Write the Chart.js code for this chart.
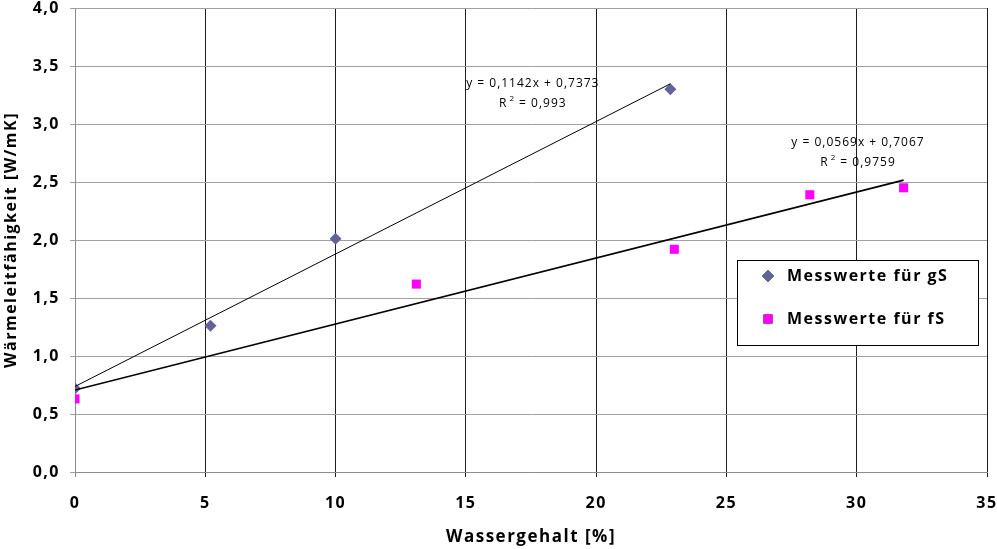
<!DOCTYPE html>
<html>
<head>
<meta charset="utf-8">
<script src="https://cdn.jsdelivr.net/npm/chart.js@4"></script>
<style>
  html, body { margin: 0; padding: 0; background: #fff; }
  #wrap { width: 997px; height: 549px; }
</style>
</head>
<body>
<div id="wrap"><canvas id="myChart" width="997" height="549"></canvas></div>
<script>
// Messwerte gS (Rauten) und fS (Quadrate)
const gsWasser = [0, 5.2, 10.0, 22.85];
const gsLambda = [0.72, 1.26, 2.01, 3.30];
const fsWasser = [0, 13.1, 23.0, 28.2, 31.8];
const fsLambda = [0.63, 1.62, 1.92, 2.39, 2.45];

// lineare Trendlinien: Steigung, Achsenabschnitt, Bereich
const gsTrend = [0.1142, 0.7373];
const fsTrend = [0.0569, 0.7067];
const gsTrendRange = [0, 22.85];
const fsTrendRange = [0, 31.8];
const gsTrendText = ['y = 0,1142x + 0,7373', '0,993'];
const fsTrendText = ['y = 0,0569x + 0,7067', '0,9759'];

const xTicks = [0, 5, 10, 15, 20, 25, 30, 35];
const yTicks = [0, 0.5, 1, 1.5, 2, 2.5, 3, 3.5, 4];

const FONT = '"Open Sans", "Liberation Sans", sans-serif';
const gsColor = '#63639c';
const fsColor = '#ff00ff';

function toPoints(xs, ys) {
    return xs.map((x, i) => ({ x: x, y: ys[i] }));
}

function trendPoints(coef, range) {
    return range.map(x => ({ x: x, y: coef[0] * x + coef[1] }));
}

function komma(v, digits) {
    return v.toFixed(digits).replace('.', ',');
}

// Gleichungen an den Trendlinien + Legende mit Rahmen
const extras = {
    id: 'extras',
    beforeDraw(chart) {
        // etwas gesperrte Schrift fuer Achsen und Titel
        chart.ctx.letterSpacing = '1.5px';
    },
    afterDatasetsDraw(chart) {
        const ctx = chart.ctx;
        const xs = chart.scales.x, ys = chart.scales.y;

        function eqLabel(text, xv, yv) {
            const px = xs.getPixelForValue(xv);
            const py = ys.getPixelForValue(yv);
            ctx.save();
            ctx.letterSpacing = '1px';
            ctx.fillStyle = '#000';
            ctx.font = '12px ' + FONT;
            ctx.textAlign = 'center';
            ctx.textBaseline = 'middle';
            ctx.fillText(text[0], px, py);
            // R² mit hochgestellter 2
            const a = 'R', b = ' = ' + text[1];
            const wa = ctx.measureText(a).width;
            const wb = ctx.measureText(b).width;
            ctx.font = '8px ' + FONT;
            const w2 = ctx.measureText('2').width + 2;
            const start = px - (wa + w2 + wb) / 2;
            ctx.textAlign = 'left';
            ctx.fillText('2', start + wa + 2, py + 15);
            ctx.font = '12px ' + FONT;
            ctx.fillText(a, start, py + 20);
            ctx.fillText(b, start + wa + w2, py + 20);
            ctx.restore();
        }
        eqLabel(gsTrendText, 17.57, 3.35);
        eqLabel(fsTrendText, 30.05, 2.84);

        // Legende
        const ca = chart.chartArea;
        const lx = ca.right - 250, ly = ca.top + 252;
        const lw = 241, lh = 85;
        ctx.save();
        ctx.letterSpacing = '1.5px';
        ctx.fillStyle = '#fff';
        ctx.fillRect(lx, ly, lw, lh);
        ctx.strokeStyle = '#000';
        ctx.lineWidth = 1;
        ctx.strokeRect(lx + 0.5, ly + 0.5, lw, lh);
        ctx.font = 'bold 16px ' + FONT;
        ctx.textBaseline = 'middle';
        ctx.fillStyle = '#000';
        const items = [
            { text: 'Messwerte für gS', style: 'rectRot', color: gsColor, r: 6 },
            { text: 'Messwerte für fS', style: 'rect', color: fsColor, r: 6.4 }
        ];
        items.forEach((it, i) => {
            const cy = ly + 16 + i * 43;
            Chart.helpers.drawPoint(ctx, { pointStyle: it.style, radius: it.r, borderWidth: 0 }, lx + 31, cy);
            ctx.fillStyle = it.color;
            ctx.fill();
            ctx.fillStyle = '#000';
            ctx.fillText(it.text, lx + 50, cy);
        });
        ctx.restore();
    }
};

const ctx = document.getElementById('myChart').getContext('2d');
new Chart(ctx, {
    type: 'scatter',
    data: {
        datasets: [
            {
                label: 'Trend gS',
                data: trendPoints(gsTrend, gsTrendRange),
                showLine: true,
                borderColor: '#000',
                borderWidth: 1,
                pointRadius: 0
            },
            {
                label: 'Trend fS',
                data: trendPoints(fsTrend, fsTrendRange),
                showLine: true,
                borderColor: '#000',
                borderWidth: 1.6,
                pointRadius: 0
            },
            {
                label: 'Messwerte für gS',
                data: toPoints(gsWasser, gsLambda),
                pointStyle: 'rectRot',
                pointRadius: 6,
                backgroundColor: gsColor,
                borderColor: gsColor,
                borderWidth: 0
            },
            {
                label: 'Messwerte für fS',
                data: toPoints(fsWasser, fsLambda),
                pointStyle: 'rect',
                pointRadius: 6.4,
                backgroundColor: fsColor,
                borderColor: fsColor,
                borderWidth: 0
            }
        ]
    },
    options: {
        responsive: false,
        animation: false,
        layout: { padding: { top: 8, right: 10, left: 0, bottom: 0 } },
        plugins: {
            legend: { display: false },
            tooltip: { enabled: false }
        },
        scales: {
            x: {
                type: 'linear',
                min: 0,
                max: 35,
                afterBuildTicks: s => { s.ticks = xTicks.map(v => ({ value: v })); },
                afterFit: s => {
                    s.height = 77;
                    s.paddingLeft = 0;
                    s.paddingRight = 0;
                },
                grid: {
                    color: c => (c.tick && c.tick.value === 0) ? '#8c8c8c' : '#1e1e1e',
                    tickLength: 5
                },
                border: { color: '#8c8c8c' },
                ticks: {
                    padding: 17,
                    color: '#000',
                    font: { family: FONT, size: 16, weight: 'bold' }
                },
                title: {
                    display: true,
                    text: 'Wassergehalt [%]',
                    color: '#000',
                    font: { family: FONT, size: 17, weight: 'bold' },
                    padding: { top: 0, bottom: 2 }
                }
            },
            y: {
                type: 'linear',
                min: 0,
                max: 4,
                afterBuildTicks: s => { s.ticks = yTicks.map(v => ({ value: v })); },
                afterFit: s => {
                    s.width = 75;
                    s.paddingTop = 0;
                    s.paddingBottom = 0;
                },
                grid: { color: '#a0a0a0', tickLength: 5 },
                border: { color: '#8c8c8c' },
                ticks: {
                    padding: 10,
                    color: '#000',
                    font: { family: FONT, size: 16, weight: 'bold' },
                    callback: v => komma(v, 1)
                },
                title: {
                    display: true,
                    text: 'Wärmeleitfähigkeit [W/mK]',
                    color: '#000',
                    font: { family: FONT, size: 16, weight: 'bold' },
                    padding: { top: 2, bottom: 0 }
                }
            }
        }
    },
    plugins: [extras]
});
</script>
</body>
</html>
